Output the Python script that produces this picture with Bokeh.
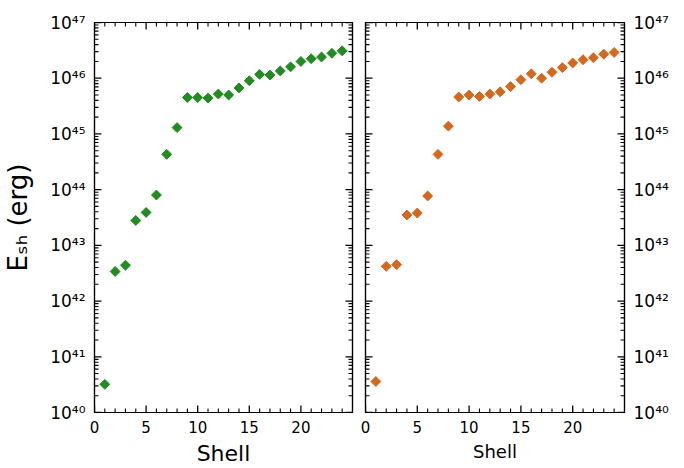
# -*- coding: utf-8 -*-
import math
from bokeh.plotting import figure
from bokeh.layouts import row
from bokeh.models import (LogAxis, LinearAxis, FixedTicker, CustomJSTickFormatter,
                          Range1d, ColumnDataSource)
from bokeh.embed import file_html
from bokeh.resources import INLINE

# ---- data ----
shell = list(range(1, 25))
e_left = [3.2e40, 3.4e42, 4.4e42, 2.8e43, 3.9e43, 8.0e43, 4.3e44, 1.3e45,
          4.5e45, 4.5e45, 4.4e45, 5.2e45, 5.0e45, 6.7e45, 9.0e45, 1.17e46,
          1.14e46, 1.35e46, 1.6e46, 2.0e46, 2.24e46, 2.4e46, 2.8e46, 3.1e46]
e_right = [3.6e40, 4.2e42, 4.5e42, 3.5e43, 3.8e43, 7.7e43, 4.3e44, 1.38e45,
           4.6e45, 5.0e45, 4.7e45, 5.2e45, 5.7e45, 7.1e45, 9.4e45, 1.2e46,
           1.0e46, 1.28e46, 1.55e46, 1.88e46, 2.15e46, 2.33e46, 2.7e46, 2.9e46]
y_exponents = list(range(40, 48))
x_major = [0, 5, 10, 15, 20]
x_minor = [i for i in range(1, 25) if i % 5 != 0]
X_LIM = (0, 25)

FONT = "DejaVu Sans"

y_major = [10.0 ** k for k in y_exponents]
y_minor = [m * 10.0 ** k for k in y_exponents[:-1] for m in range(2, 10)]
Y_LIM = (y_major[0], y_major[-1])

# frame geometry (pixels)
FRAME_W, FRAME_H = 259, 395
MAJ_LEN, MIN_LEN = 7, 4

sup_fmt = CustomJSTickFormatter(code="""
const e = Math.round(Math.log10(tick));
const s = '\u2070\u00b9\u00b2\u00b3\u2074\u2075\u2076\u2077\u2078\u2079';
return '10' + String(e).split('').map(d => s[+d]).join('');
""")


def style(ax, labels, xaxis):
    ax.ticker = FixedTicker(ticks=x_major, minor_ticks=x_minor) if xaxis else \
        FixedTicker(ticks=y_major, minor_ticks=y_minor)
    ax.major_tick_in = 0
    ax.major_tick_out = 0
    ax.minor_tick_in = 0
    ax.minor_tick_out = 0
    ax.axis_line_color = "black"
    ax.axis_line_width = 1.2
    ax.major_label_text_font = FONT
    ax.major_label_text_color = "black"
    ax.axis_label_text_font = FONT
    ax.axis_label_text_font_style = "normal"
    ax.axis_label_text_color = "black"
    if not labels:
        ax.formatter = CustomJSTickFormatter(code="return '';")
        ax.major_label_text_font_size = "1px"
        ax.major_label_standoff = 0
    return ax


def inward_ticks(p):
    # tick marks pointing into the frame, drawn as thin filled rectangles
    # (sizes in screen pixels) centred half a tick length inside each edge
    x_span = X_LIM[1] - X_LIM[0]
    decades = math.log10(Y_LIM[1] / Y_LIM[0])
    for vals, length, lw in ((x_major, MAJ_LEN, 1.3), (x_minor, MIN_LEN, 1.1)):
        f = 10 ** (0.5 * length * decades / FRAME_H)
        n = len(vals)
        p.rect(x=vals + vals, y=[Y_LIM[0] * f] * n + [Y_LIM[1] / f] * n,
               width=lw, height=length, width_units="screen", height_units="screen",
               fill_color="black", line_color=None)
    for vals, length, lw in ((y_major, MAJ_LEN, 1.3), (y_minor, MIN_LEN, 1.1)):
        d = 0.5 * length * x_span / FRAME_W
        n = len(vals)
        p.rect(x=[X_LIM[0] + d] * n + [X_LIM[1] - d] * n, y=vals + vals,
               width=length, height=lw, width_units="screen", height_units="screen",
               fill_color="black", line_color=None)


def make_panel(values, color, mb_left, mb_right, left_labels, right_labels, xlabel_size):
    p = figure(width=mb_left + FRAME_W + mb_right, height=22 + FRAME_H + 51,
               x_range=Range1d(*X_LIM), y_range=Range1d(*Y_LIM), y_axis_type="log",
               x_axis_location=None, y_axis_location=None,
               output_backend="svg", toolbar_location=None,
               min_border_left=mb_left, min_border_right=mb_right,
               min_border_top=22, min_border_bottom=51)
    p.grid.visible = False
    p.outline_line_color = "black"
    p.outline_line_width = 1.2
    p.background_fill_color = None
    p.border_fill_color = None

    xb = style(LinearAxis(), True, True)
    xb.major_label_text_font_size = "15px"
    xb.major_label_standoff = 8
    xb.axis_label = "Shell"
    xb.axis_label_text_font_size = xlabel_size
    xb.axis_label_standoff = 5
    p.add_layout(xb, "below")
    p.add_layout(style(LinearAxis(), False, True), "above")

    yl = style(LogAxis(), left_labels, False)
    if left_labels:
        yl.formatter = sup_fmt
        yl.major_label_text_font_size = "17px"
        yl.major_label_standoff = 9
        yl.axis_label = "E\u209b\u2095 (erg)"
        yl.axis_label_text_font_size = "26px"
        yl.axis_label_standoff = 14
    p.add_layout(yl, "left")
    yr = style(LogAxis(), right_labels, False)
    if right_labels:
        yr.formatter = sup_fmt
        yr.major_label_text_font_size = "17px"
        yr.major_label_standoff = 9
    p.add_layout(yr, "right")

    inward_ticks(p)

    src = ColumnDataSource(dict(shell=shell, energy=values))
    p.scatter("shell", "energy", source=src, marker="square", size=7,
              angle=math.pi / 4, fill_color=color, line_color=color)
    return p


p1 = make_panel(e_left, "#228B22", 93, 6, True, False, "22px")
p2 = make_panel(e_right, "#D2691E", 7, 60, False, True, "18px")

layout = row(p1, p2)
open("out.html", "w", encoding="utf-8").write(file_html(layout, INLINE))
